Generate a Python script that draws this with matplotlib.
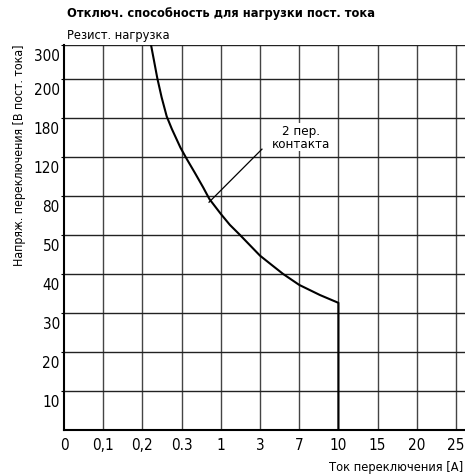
import matplotlib
matplotlib.use('Agg')
import matplotlib.pyplot as plt
from matplotlib.transforms import ScaledTranslation

# libelles des axes (categories equidistantes)
x_labels = ['0', '0,1', '0,2', '0.3', '1', '3', '7', '10', '15', '20', '25']
y_labels = ['10', '20', '30', '40', '50', '80', '120', '180', '200', '300']
# la ligne 300 est le bord haut, un peu plus proche que les autres
y_ticks = [1, 2, 3, 4, 5, 6, 7, 8, 9, 9.87]

# courbe, en position de categorie
curve_x = [2.22, 2.29, 2.38, 2.49, 2.62, 2.75, 2.97, 3.13, 3.34, 3.55, 3.71, 4.0,
           4.23, 4.49, 4.74, 5.0, 5.30, 5.59, 6.0, 6.53, 7.0, 7.0]
curve_y = [9.87, 9.50, 9.02, 8.53, 8.04, 7.72, 7.24, 6.95, 6.59, 6.22, 5.92, 5.54,
           5.26, 5.0, 4.74, 4.47, 4.23, 4.0, 3.72, 3.46, 3.26, 0]

# trait de rappel vers l'etiquette
leader_x = [3.70, 5.05]
leader_y = [5.84, 7.2]
label_pos = (6.05, 7.51)

title = 'Отключ. способность для нагрузки пост. тока'
subtitle = 'Резист. нагрузка'
xlabel = 'Ток переключения [A]'
ylabel = 'Напряж. переключения [В пост. тока]'

plt.rcParams['font.family'] = ['DejaVu Sans']
plt.rcParams['font.stretch'] = 'condensed'

W, H = 465, 477
fig = plt.figure(figsize=(W / 100, H / 100), dpi=100)
left, right, top, bottom = 64, 465, 46, 431
ax = fig.add_axes([left / W, 1 - bottom / H, (right - left) / W, (bottom - top) / H])

xpos = list(range(len(x_labels)))

ax.set_xlim(0, (right - left) / 39.2)
ax.set_ylim(0, y_ticks[-1])

for x in xpos[1:]:
    ax.axvline(x, color='#444444', lw=1.0, zorder=1)
for y in y_ticks:
    ax.axhline(y, color='#222222', lw=1.0, zorder=1)

ax.plot(curve_x, curve_y, color='black', lw=1.5, zorder=3)
ax.plot(leader_x, leader_y, color='black', lw=0.9, zorder=3)
ax.text(label_pos[0], label_pos[1], '2 пер.\nконтакта', ha='center', va='center',
        fontsize=9.5, linespacing=1.05, zorder=4,
        bbox=dict(facecolor='white', edgecolor='none', pad=0.5))

ax.set_xticks(xpos)
ax.set_xticklabels(x_labels, fontsize=11)
ax.set_yticks(y_ticks)
ax.set_yticklabels(y_labels, fontsize=11, va='top')
ax.tick_params(axis='x', length=0, pad=5)
ax.tick_params(axis='y', length=2, pad=1)
# decaler un peu les libelles y vers le bas comme sur l'original
for lab in ax.get_yticklabels():
    lab.set_transform(lab.get_transform() + ScaledTranslation(0, -3 / 100, fig.dpi_scale_trans))

for s in ['top', 'right']:
    ax.spines[s].set_visible(False)
for s in ['left', 'bottom']:
    ax.spines[s].set_linewidth(1.5)

fig.text(67 / W, 1 - 14 / H, title, fontsize=9.2, fontweight='bold', va='center', ha='left')
fig.text(67 / W, 1 - 36 / H, subtitle, fontsize=9.2, va='center', ha='left')
fig.text(463 / W, 1 - 468 / H, xlabel, fontsize=9.2, va='center', ha='right')
fig.text(20 / W, 1 - 45 / H, ylabel, fontsize=8.8, va='top', ha='center', rotation=90)

fig.savefig('out.png', dpi=100)
